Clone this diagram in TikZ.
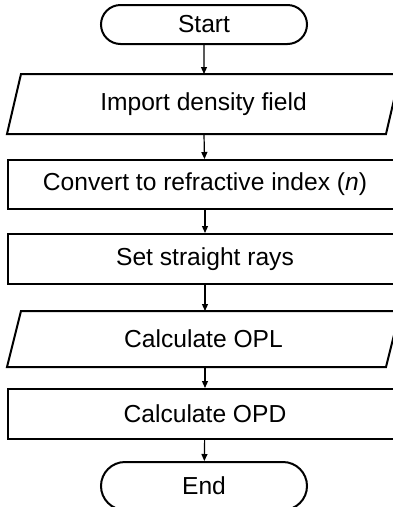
\documentclass[tikz,border=0pt]{standalone}
\usepackage{fontspec}
\setmainfont{Liberation Sans}
\usetikzlibrary{shapes.misc,arrows.meta}
\begin{document}
\begin{tikzpicture}[x=1pt,y=-1pt,
  every node/.style={font=\fontsize{24.6}{29}\selectfont, inner sep=0pt, line width=2pt},
  term/.style={draw=black, rounded rectangle, minimum width=206pt},
  procbox/.style={draw=black, rectangle, minimum width=394pt},
  iobox/.style={rectangle, minimum width=377pt},
  ioline/.style={line width=2pt, line join=miter},
  flow/.style={-{Triangle[length=7pt,width=6pt]}, line width=1.2pt}]
\useasboundingbox (0,0) rectangle (393,507);
\clip (0,0) rectangle (393,507);
\node[term, minimum height=39pt] (start) at (204,24.5) {Start};
\node[iobox, minimum height=58pt] (imp) at (203.5,104) {Import density field};
\node[procbox, minimum height=49pt] (conv) at (205,184.5) {Convert to refractive index (\textit{n})};
\node[procbox, minimum height=50pt] (rays) at (205,259) {Set straight rays};
\node[iobox, minimum height=54pt] (opl) at (203.5,339) {Calculate OPL};
\node[procbox, minimum height=50pt] (opd) at (205,414) {Calculate OPD};
\node[term, minimum height=48pt] (end) at (204,486) {End};
\draw[ioline] ([xshift=-7pt]imp.south west) -- ([xshift=7pt]imp.north west) -- ([xshift=7pt]imp.north east) -- ([xshift=-7pt]imp.south east) -- cycle;
\draw[ioline] ([xshift=-7pt]opl.south west) -- ([xshift=7pt]opl.north west) -- ([xshift=7pt]opl.north east) -- ([xshift=-7pt]opl.south east) -- cycle;
\draw[flow] (start) -- (imp.north -| start);
\draw[flow] (imp.south -| start) -- (conv);
\draw[flow] (conv) -- (rays);
\draw[flow] (rays) -- (opl.north -| rays);
\draw[flow] (opl.south -| rays) -- (opd);
\draw[flow] (opd) -- (end);
\end{tikzpicture}
\end{document}
